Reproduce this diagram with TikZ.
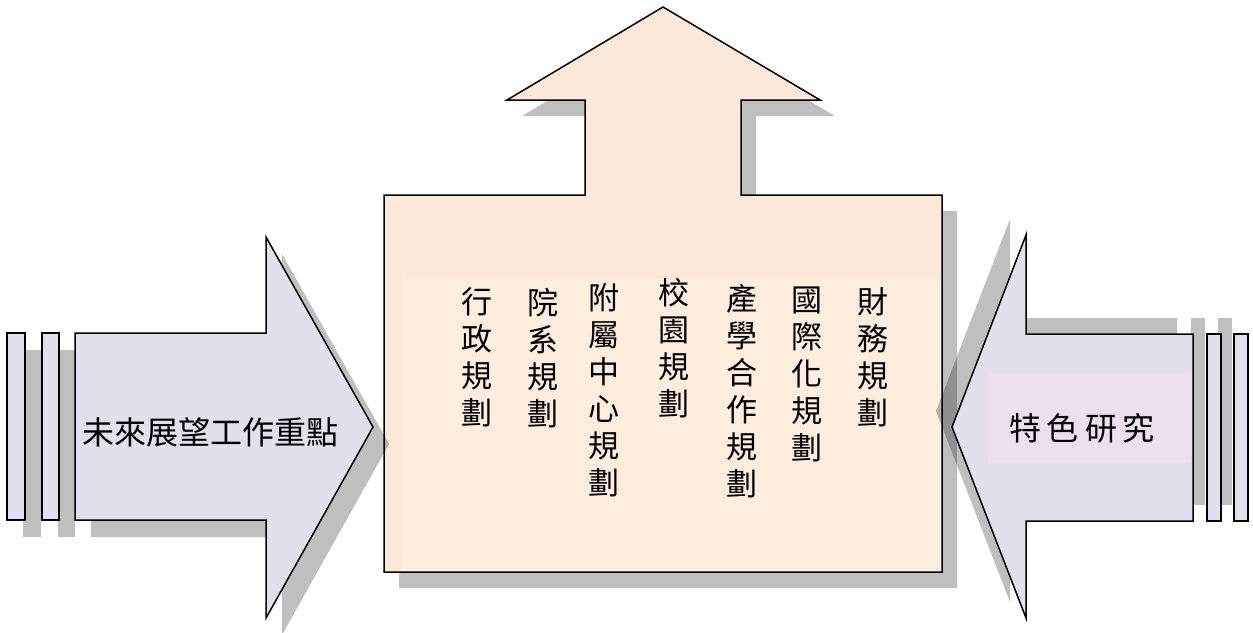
\documentclass[tikz,border=0pt]{standalone}
\usepackage{fontspec}
\newfontfamily\cjk{Noto Sans CJK TC}
\definecolor{peach}{HTML}{FCE8DA}
\definecolor{peachlight}{HTML}{FDEDDF}
\definecolor{lav}{HTML}{E3DFEB}
\definecolor{pinkish}{HTML}{ECDFEE}
\tikzset{
  shape outline/.style={draw=black, line width=1.5pt, line join=miter},
  shadowfill/.style={fill=black, fill opacity=0.25, draw=none},
  coltext/.style={anchor=north, align=center, inner sep=0pt, font=\cjk\fontsize{31}{37}\selectfont},
  arrowtext/.style={inner sep=0pt, font=\cjk\fontsize{32}{36}\selectfont}
}
\begin{document}
\begin{tikzpicture}[x=1pt,y=-1pt]
\useasboundingbox (0,0) rectangle (1253,632);
% ---- central box with up arrow ----
\begin{scope}[shift={(15,16)}]
  \fill[shadowfill] (384,572) -- (384,195) -- (585,195) -- (585,100) -- (507,100) -- (663,7) -- (820,100) -- (741,100) -- (741,195) -- (942,195) -- (942,572) -- cycle;
\end{scope}
\path[shape outline, fill=peach] (384,572) -- (384,195) -- (585,195) -- (585,100) -- (507,100) -- (663,7) -- (820,100) -- (741,100) -- (741,195) -- (942,195) -- (942,572) -- cycle;
\fill[peachlight] (402,278) rectangle (940.5,570.5);
% ---- left arrow ----
\begin{scope}[shift={(16,17)}]
  \fill[shadowfill] (7,333) rectangle (25,520);
  \fill[shadowfill] (42,333) rectangle (59,520);
  \fill[shadowfill] (75,333) -- (266,333) -- (266,237) -- (373,427) -- (266,618) -- (266,520) -- (75,520) -- cycle;
\end{scope}
\path[shape outline, fill=lav] (7,333) rectangle (25,520);
\path[shape outline, fill=lav] (42,333) rectangle (59,520);
\path[shape outline, fill=lav] (75,333) -- (266,333) -- (266,237) -- (373,427) -- (266,618) -- (266,520) -- (75,520) -- cycle;
% ---- right arrow ----
\begin{scope}[shift={(-16,-16)}]
  \fill[shadowfill] (1207,334) rectangle (1221,521);
  \fill[shadowfill] (1234,334) rectangle (1248,521);
  \fill[shadowfill] (1193,334) -- (1026,334) -- (1026,235) -- (952,427) -- (1026,618) -- (1026,521) -- (1193,521) -- cycle;
\end{scope}
\path[shape outline, fill=lav] (1207,334) rectangle (1221,521);
\path[shape outline, fill=lav] (1234,334) rectangle (1248,521);
\path[shape outline, fill=lav] (1193,334) -- (1026,334) -- (1026,235) -- (952,427) -- (1026,618) -- (1026,521) -- (1193,521) -- cycle;
\fill[pinkish] (988,373) rectangle (1191,463);
% ---- texts ----
\node[arrowtext] (lefttext) at (210,432) {未來展望工作重點};
\node[arrowtext] (righttext) at (1082,428) {特\hspace{6pt}色\hspace{6pt}研\hspace{6pt}究};
\node[coltext] (c1) at (873,287) {財\\務\\規\\劃};
\node[coltext] (c2) at (807,287) {國\\際\\化\\規\\劃};
\node[coltext] (c3) at (742,284) {產\\學\\合\\作\\規\\劃};
\node[coltext] (c4) at (674,278) {校\\園\\規\\劃};
\node[coltext] (c5) at (604,283) {附\\屬\\中\\心\\規\\劃};
\node[coltext] (c6) at (543,288) {院\\系\\規\\劃};
\node[coltext] (c7) at (477,287) {行\\政\\規\\劃};
\end{tikzpicture}
\end{document}
